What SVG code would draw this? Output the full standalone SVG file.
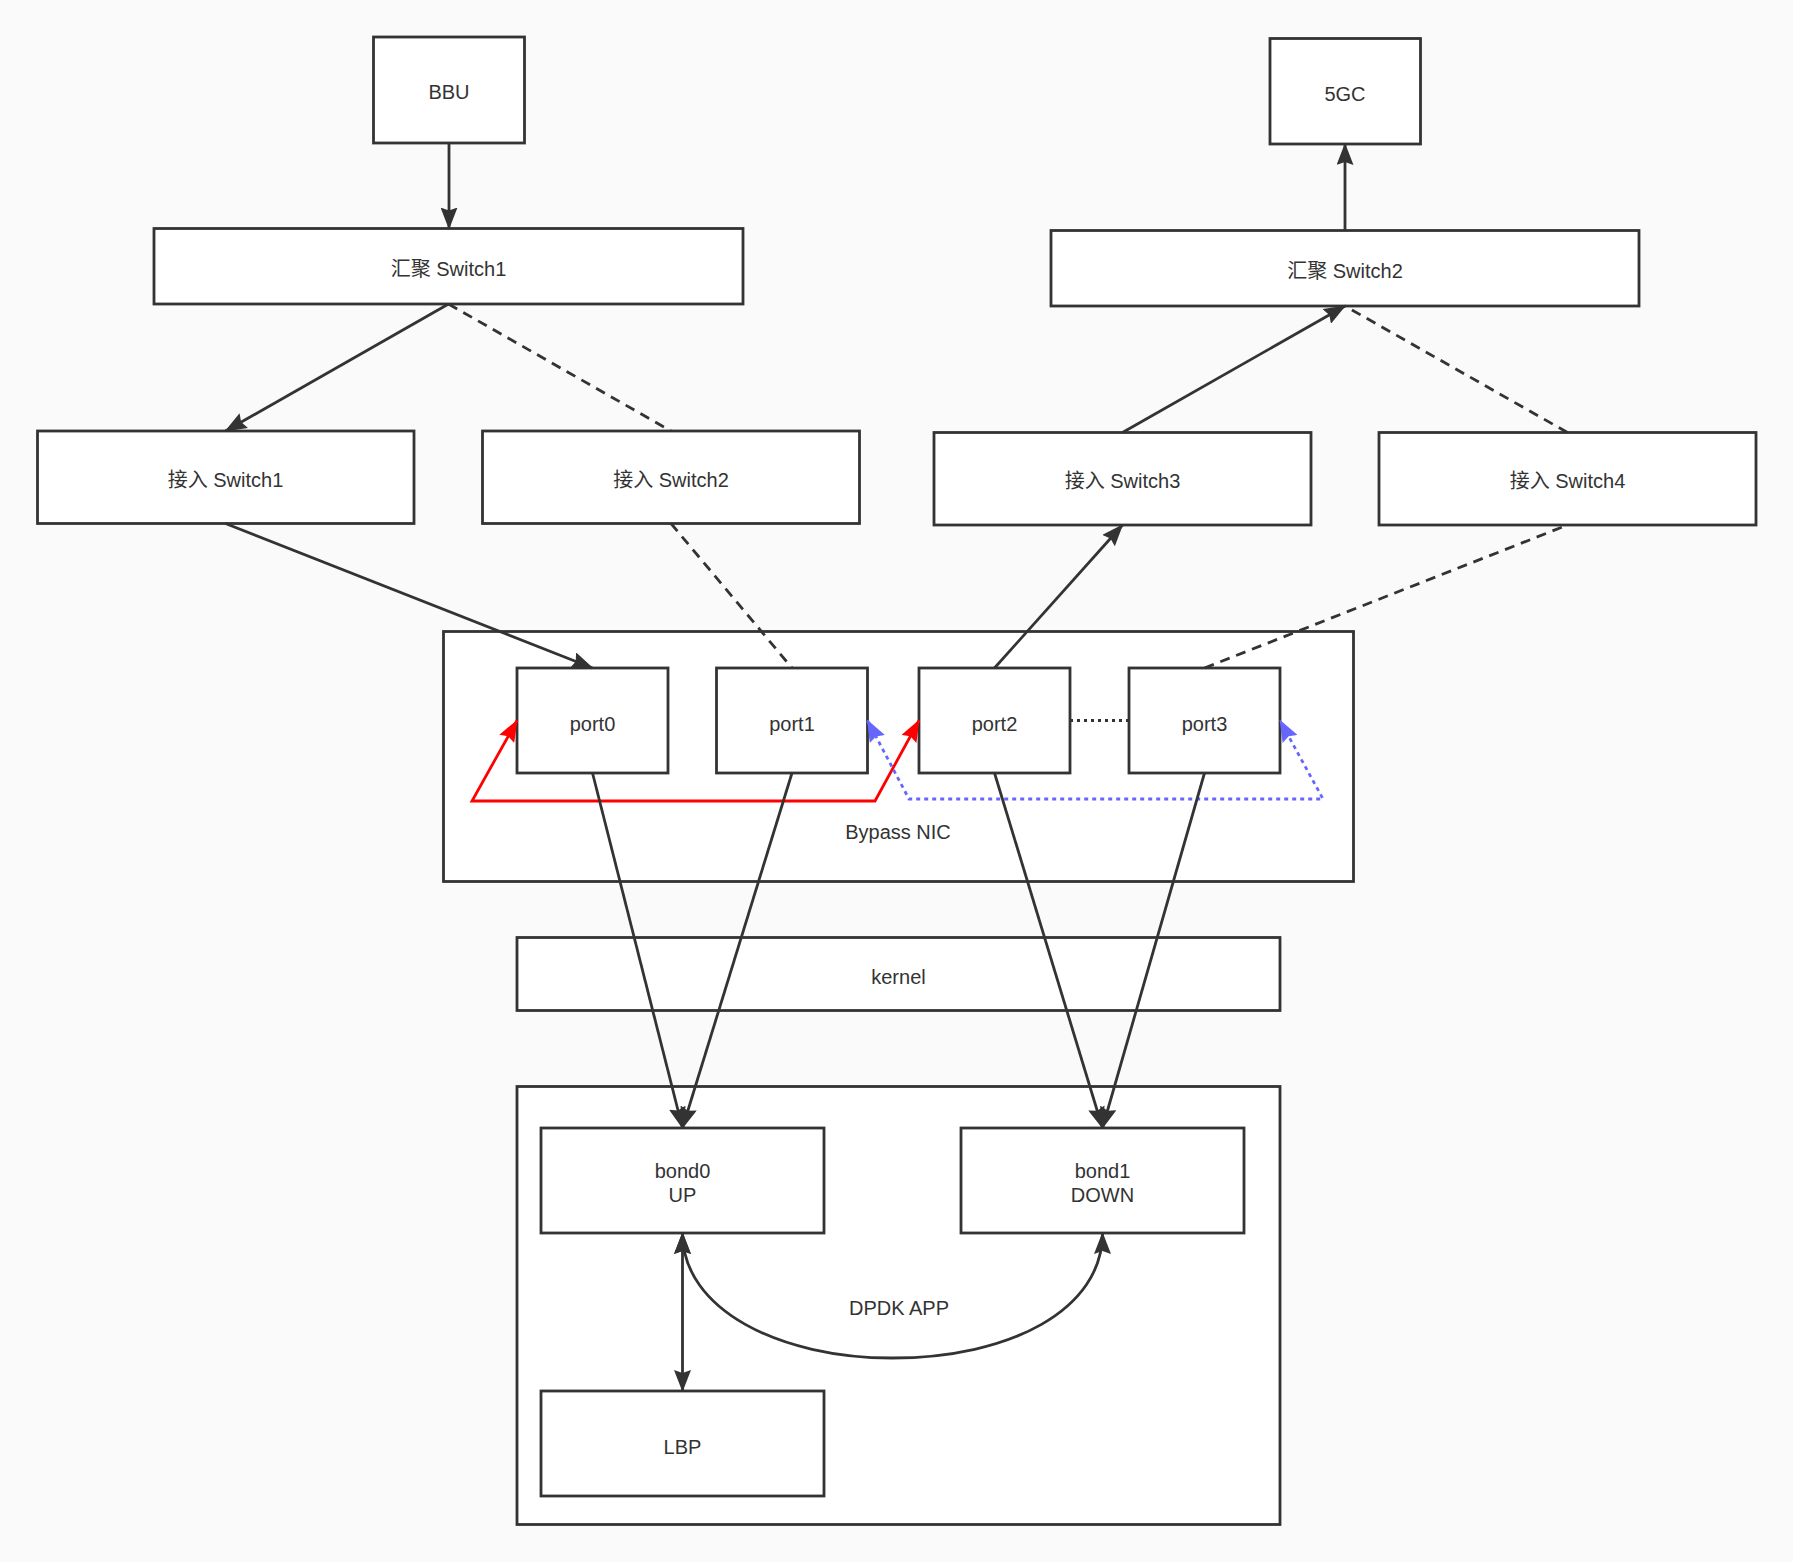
<svg xmlns="http://www.w3.org/2000/svg" width="1793" height="1562" viewBox="0 0 1793 1562">
<style>
.box{fill:#ffffff;stroke:#333333;stroke-width:2.8}
.lbl{font-family:"Liberation Sans","Noto Sans CJK SC",Arial,sans-serif;font-size:20px;fill:#333333;text-anchor:middle;dominant-baseline:central}
.ln{fill:none;stroke:#333333;stroke-width:2.8}
.dash{stroke-dasharray:10 7}
.dot{stroke-dasharray:3 4}
.red{fill:none;stroke:#ff0000;stroke-width:2.8}
.blue{fill:none;stroke:#6666ff;stroke-width:2.8;stroke-dasharray:4 4}
</style>
<defs>
<marker id="ah" viewBox="0 0 22 17" refX="21" refY="8.5" markerWidth="22" markerHeight="17" markerUnits="userSpaceOnUse" orient="auto-start-reverse"><path d="M0,0 L22,8.5 L0,17 L3,8.5 z" fill="#333333"/></marker>
<marker id="ahr" viewBox="0 0 22 17" refX="21" refY="8.5" markerWidth="22" markerHeight="17" markerUnits="userSpaceOnUse" orient="auto-start-reverse"><path d="M0,0 L22,8.5 L0,17 L3,8.5 z" fill="#ff0000"/></marker>
<marker id="ahb" viewBox="0 0 22 17" refX="21" refY="8.5" markerWidth="22" markerHeight="17" markerUnits="userSpaceOnUse" orient="auto-start-reverse"><path d="M0,0 L22,8.5 L0,17 L3,8.5 z" fill="#6666ff"/></marker>
</defs>
<rect x="0" y="0" width="1793" height="1562" fill="#fafafa"/>

<g id="bypass-nic"><rect class="box" x="443.5" y="631.5" width="910" height="250"/><text class="lbl" x="898" y="832">Bypass NIC</text></g>
<g id="dpdk-app"><rect class="box" x="517" y="1086.5" width="763" height="438"/><text class="lbl" x="899" y="1308">DPDK APP</text></g>

<g id="bbu"><rect class="box" x="373.5" y="37" width="151" height="106"/><text class="lbl" x="449" y="92">BBU</text></g>
<g id="5gc"><rect class="box" x="1270" y="38.5" width="150.5" height="105.5"/><text class="lbl" x="1345" y="94">5GC</text></g>
<g id="agg-switch1"><rect class="box" x="154" y="228.5" width="589" height="75.5"/><text class="lbl" x="448.5" y="269">汇聚 Switch1</text></g>
<g id="agg-switch2"><rect class="box" x="1051" y="230.5" width="588" height="75.5"/><text class="lbl" x="1345" y="271">汇聚 Switch2</text></g>
<g id="acc-switch1"><rect class="box" x="37.5" y="431" width="376.5" height="92.5"/><text class="lbl" x="225.5" y="480">接入 Switch1</text></g>
<g id="acc-switch2"><rect class="box" x="482.5" y="431" width="377" height="92.5"/><text class="lbl" x="671" y="480">接入 Switch2</text></g>
<g id="acc-switch3"><rect class="box" x="934" y="432.5" width="377" height="92.5"/><text class="lbl" x="1122.5" y="481">接入 Switch3</text></g>
<g id="acc-switch4"><rect class="box" x="1379" y="432.5" width="377" height="92.5"/><text class="lbl" x="1567.5" y="481">接入 Switch4</text></g>

<g id="port0"><rect class="box" x="517" y="668" width="151" height="105"/><text class="lbl" x="592.5" y="724">port0</text></g>
<g id="port1"><rect class="box" x="716.5" y="668" width="151" height="105"/><text class="lbl" x="792" y="724">port1</text></g>
<g id="port2"><rect class="box" x="919" y="668" width="151" height="105"/><text class="lbl" x="994.5" y="724">port2</text></g>
<g id="port3"><rect class="box" x="1129" y="668" width="151" height="105"/><text class="lbl" x="1204.5" y="724">port3</text></g>

<g id="kernel"><rect class="box" x="517" y="937.5" width="763" height="73"/><text class="lbl" x="898.5" y="977">kernel</text></g>
<g id="bond0"><rect class="box" x="541" y="1128" width="283" height="105"/><text class="lbl" x="682.5" y="1171">bond0</text><text class="lbl" x="682.5" y="1195">UP</text></g>
<g id="bond1"><rect class="box" x="961" y="1128" width="283" height="105"/><text class="lbl" x="1102.5" y="1171">bond1</text><text class="lbl" x="1102.5" y="1195">DOWN</text></g>
<g id="lbp"><rect class="box" x="541" y="1391" width="283" height="105"/><text class="lbl" x="682.5" y="1447">LBP</text></g>

<g id="connectors">
<path class="ln" d="M449 143 L449 228.5" marker-end="url(#ah)"/>
<path class="ln" d="M1345 230.5 L1345 144" marker-end="url(#ah)"/>
<path class="ln" d="M448.5 304 L225.5 431" marker-end="url(#ah)"/>
<path class="ln dash" d="M448.5 304 L671 431"/>
<path class="ln" d="M1122.5 432.5 L1345 306" marker-end="url(#ah)"/>
<path class="ln dash" d="M1567.5 432.5 L1345 306"/>
<path class="ln" d="M225.5 523.5 L592.5 668" marker-end="url(#ah)"/>
<path class="ln dash" d="M671 523.5 L792 668"/>
<path class="ln" d="M994.5 668 L1122.5 525" marker-end="url(#ah)"/>
<path class="ln dash" d="M1204.5 668 L1567.5 525"/>
<path class="ln dot" d="M1070 720.5 L1129 720.5"/>
<path class="red" d="M517 720.5 L472 801 L875 801 L919 720.5" marker-start="url(#ahr)" marker-end="url(#ahr)"/>
<path class="blue" d="M867.5 720.5 L909 799 L1323 799 L1280 720.5" marker-start="url(#ahb)" marker-end="url(#ahb)"/>
<path class="ln" d="M592.5 773 L682.5 1128" marker-end="url(#ah)"/>
<path class="ln" d="M792 773 L682.5 1128" marker-end="url(#ah)"/>
<path class="ln" d="M994.5 773 L1102.5 1128" marker-end="url(#ah)"/>
<path class="ln" d="M1204.5 773 L1102.5 1128" marker-end="url(#ah)"/>
<path class="ln" d="M682.5 1233 L682.5 1391" marker-start="url(#ah)" marker-end="url(#ah)"/>
<path class="ln" d="M682.5 1233 C682.5 1310 780 1358 892 1358 C1010 1358 1102.5 1310 1102.5 1233" marker-start="url(#ah)" marker-end="url(#ah)"/>
</g>
</svg>
